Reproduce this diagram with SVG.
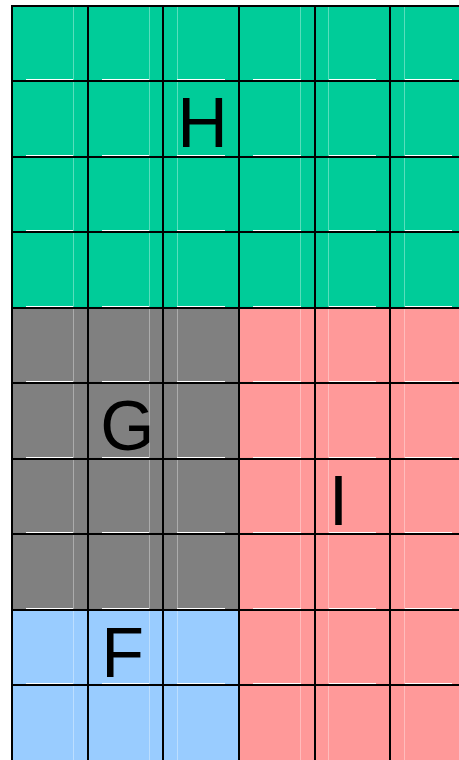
<svg xmlns="http://www.w3.org/2000/svg" width="459" height="760" viewBox="0 0 459 760">
<style>
.grid{stroke:#000;stroke-width:2;fill:none}
.dash{stroke:#fff;stroke-width:1}
.faint{stroke:#fff;stroke-opacity:0.35;stroke-width:1}
.lbl{font-family:"Liberation Sans",Arial,sans-serif;font-size:70px;fill:#000;text-anchor:middle}
</style>
<rect width="459" height="760" fill="#fff"/>
<g id="H"><rect x="12" y="6" width="454" height="302" fill="#00CC99"/><text class="lbl" x="202.5" y="147">H</text></g>
<g id="G"><rect x="12" y="308" width="227" height="302" fill="#808080"/><text class="lbl" x="127.5" y="450">G</text></g>
<g id="I"><rect x="239" y="308" width="227" height="460" fill="#FF9999"/><text class="lbl" x="338.5" y="525">I</text></g>
<g id="F"><rect x="12" y="610" width="227" height="160" fill="#99CCFF"/><text class="lbl" x="122.6" y="677">F</text></g>
<g id="faint">
<line class="faint" x1="73.5" y1="6" x2="73.5" y2="760"/>
<line class="faint" x1="149.5" y1="6" x2="149.5" y2="760"/>
<line class="faint" x1="177.5" y1="6" x2="177.5" y2="760"/>
<line class="faint" x1="300.5" y1="6" x2="300.5" y2="760"/>
<line class="faint" x1="328.5" y1="6" x2="328.5" y2="760"/>
<line class="faint" x1="404.5" y1="6" x2="404.5" y2="760"/>
</g>
<g id="dashes">
<path class="dash" d="M26 79.5H73M102 79.5H149M177 79.5H225M253 79.5H301M329 79.5H376M405 79.5H452
M26 155.5H73M102 155.5H149M177 155.5H225M253 155.5H301M329 155.5H376M405 155.5H452
M26 230.5H73M102 230.5H149M177 230.5H225M253 230.5H301M329 230.5H376M405 230.5H452
M26 306.5H73M102 306.5H149M177 306.5H225M253 306.5H301M329 306.5H376M405 306.5H452
M26 381.5H73M102 381.5H149M177 381.5H225M253 381.5H301M329 381.5H376M405 381.5H452
M26 457.5H73M102 457.5H149M177 457.5H225M253 457.5H301M329 457.5H376M405 457.5H452
M26 532.5H73M102 532.5H149M177 532.5H225M253 532.5H301M329 532.5H376M405 532.5H452
M26 608.5H73M102 608.5H149M177 608.5H225M253 608.5H301M329 608.5H376M405 608.5H452
M26 683.5H73M102 683.5H149M177 683.5H225M253 683.5H301M329 683.5H376M405 683.5H452"/>
</g>
<g id="connectors" class="grid">
<path d="M12 6V760M88 6V760M163 6V760M239 6V760M315 6V760M390 6V760"/>
<path d="M11 6H459M11 81H459M11 157H459M11 232H459M11 308H459M11 383H459M11 459H459M11 534H459M11 610H459M11 685H459"/>
</g>
</svg>
